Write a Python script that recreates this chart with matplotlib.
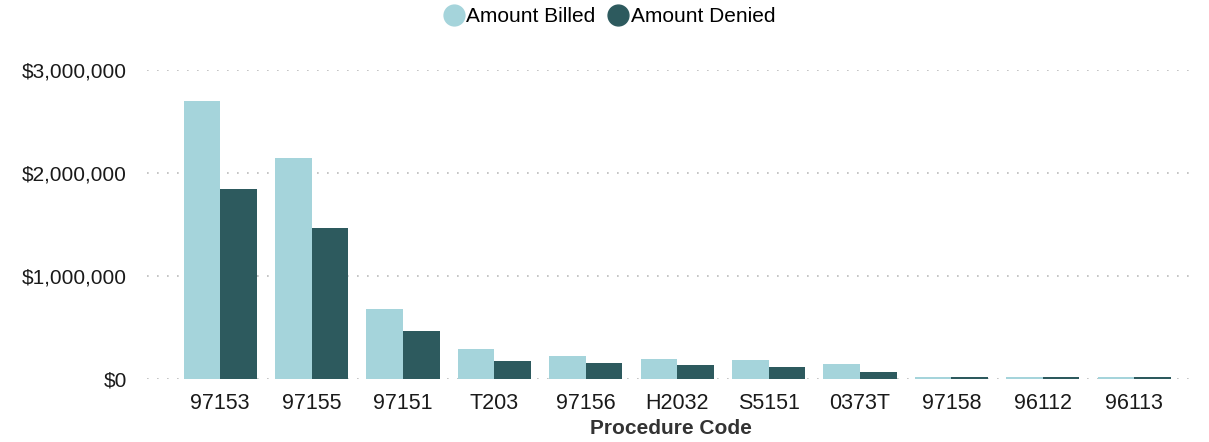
import matplotlib
matplotlib.use("Agg")
import matplotlib.pyplot as plt
import numpy as np
from matplotlib.lines import Line2D
from matplotlib.ticker import FuncFormatter

plt.rcParams['font.family'] = ['Liberation Sans', 'DejaVu Sans']

codes = ["97153", "97155", "97151", "T203", "97156", "H2032", "S5151", "0373T", "97158", "96112", "96113"]
billed = [2700000, 2150000, 680000, 290000, 220000, 195000, 180000, 146000, 20000, 20000, 20000]
denied = [1840000, 1470000, 465000, 175000, 155000, 133000, 113000, 72000, 16000, 16000, 16000]
yticks = [0, 1000000, 2000000, 3000000]

c_billed = "#A5D4DB"
c_denied = "#2D5A5E"

fig = plt.figure(figsize=(12.09, 4.42), dpi=100)
ax = fig.add_axes([0.1216, 0.1425, 0.8664, 0.6991])

x = np.arange(len(codes))
w = 0.4
ax.bar(x - w/2, billed, width=w, color=c_billed, zorder=3)
ax.bar(x + w/2, denied, width=w, color=c_denied, zorder=3)

ax.set_xlim(-0.8, len(codes) - 1 + 0.66)
ax.set_ylim(0, 3000000)
ax.set_yticks(yticks)
ax.yaxis.set_major_formatter(FuncFormatter(lambda v, p: "${:,.0f}".format(v)))
ax.set_xticks(x)
ax.set_xticklabels(codes)
ax.tick_params(axis='both', length=0, colors="#1a1a1a")
ax.tick_params(axis='y', pad=14.5, labelsize=15)
ax.tick_params(axis='x', pad=10, labelsize=15.5)
for s in ax.spines.values():
    s.set_visible(False)
ax.yaxis.grid(True, linestyle=(0, (1, 5)), color="#bbbbbb", linewidth=1.2, zorder=0)
ax.set_xlabel("Procedure Code", fontsize=15, fontweight='bold', color="#333333", labelpad=4)

handles = [Line2D([], [], marker='o', linestyle='none', markersize=15, color=c_billed),
           Line2D([], [], marker='o', linestyle='none', markersize=15, color=c_denied)]
fig.legend(handles, ["Amount Billed", "Amount Denied"], loc='center', bbox_to_anchor=(0.503, 0.963),
           ncol=2, frameon=False, fontsize=15, handletextpad=0.0, columnspacing=0.5, handlelength=1.2)

fig.savefig("out.png", dpi=100)
